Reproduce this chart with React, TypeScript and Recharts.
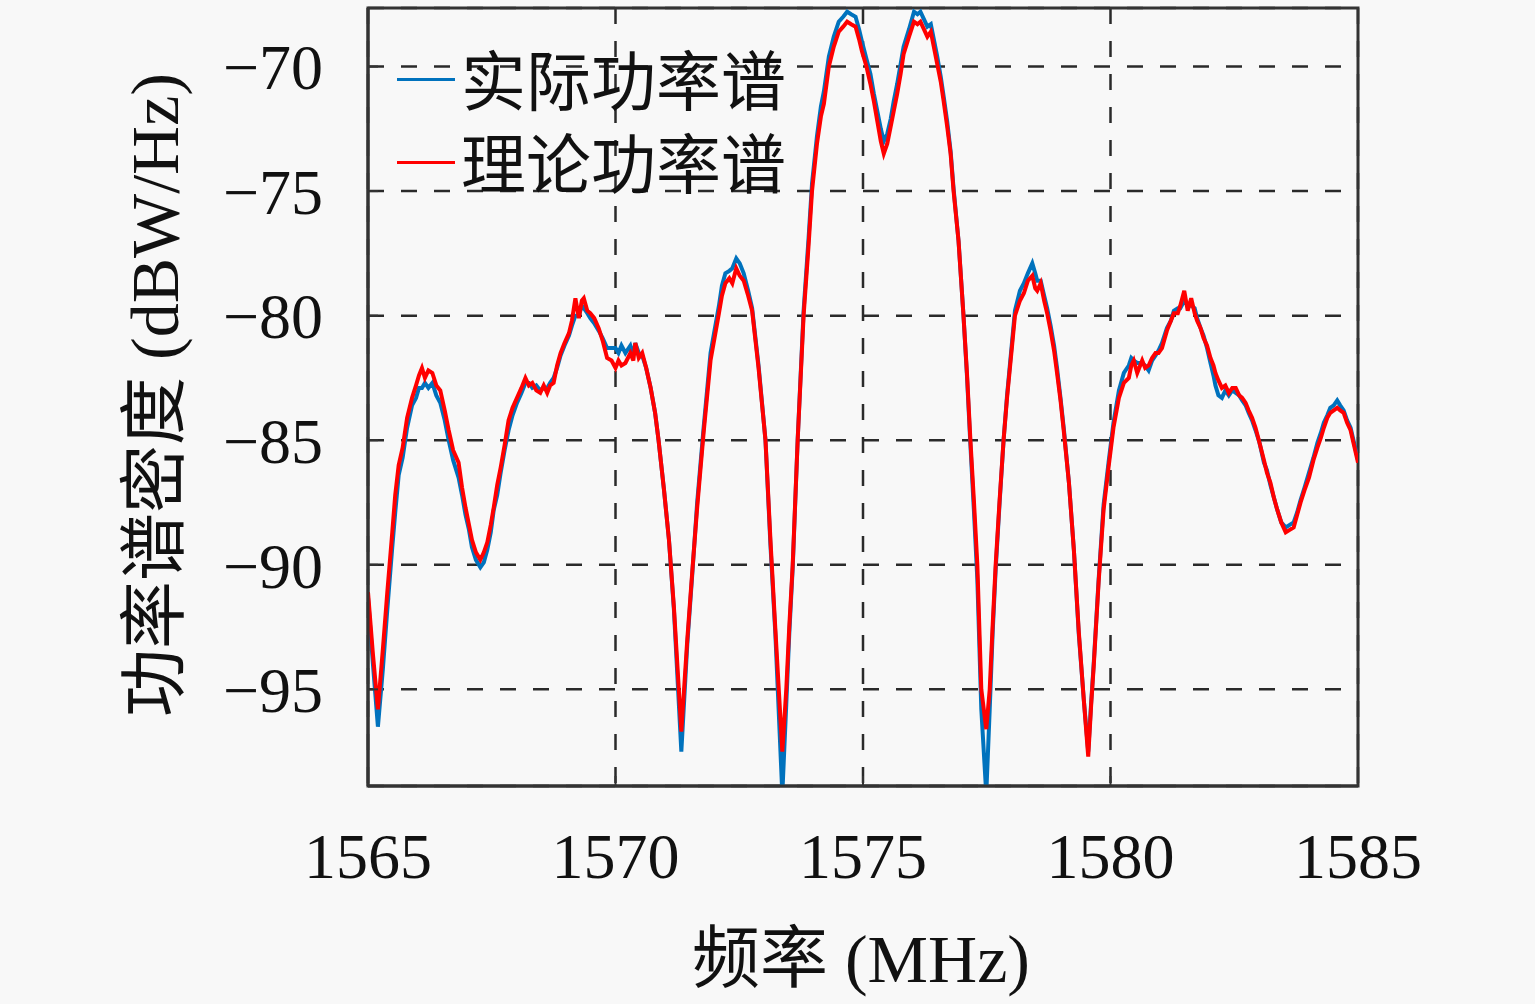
import React from 'react';
import { LineChart, Line, XAxis, YAxis, CartesianGrid, Legend, ReferenceArea } from 'recharts';

// frequency grid (MHz)
const FREQ = [
  1565.0, 1565.1, 1565.2, 1565.3, 1565.39, 1565.49, 1565.55, 1565.62, 1565.7, 1565.79,
  1565.89, 1565.97, 1566.03, 1566.09, 1566.15, 1566.22, 1566.3, 1566.38, 1566.46, 1566.55,
  1566.63, 1566.72, 1566.83, 1566.9, 1566.97, 1567.04, 1567.1, 1567.18, 1567.27, 1567.34,
  1567.41, 1567.48, 1567.54, 1567.61, 1567.68, 1567.76, 1567.84, 1567.92, 1568.01, 1568.1,
  1568.18, 1568.25, 1568.32, 1568.4, 1568.48, 1568.55, 1568.62, 1568.68, 1568.75, 1568.82,
  1568.89, 1568.97, 1569.06, 1569.12, 1569.19, 1569.26, 1569.32, 1569.36, 1569.43, 1569.49,
  1569.57, 1569.66, 1569.74, 1569.83, 1569.92, 1570.0, 1570.06, 1570.12, 1570.2, 1570.3,
  1570.36, 1570.4, 1570.47, 1570.54, 1570.62, 1570.71, 1570.8, 1570.87, 1570.98, 1571.08,
  1571.18, 1571.33, 1571.45, 1571.55, 1571.65, 1571.78, 1571.92, 1572.0, 1572.09, 1572.15,
  1572.22, 1572.3, 1572.36, 1572.44, 1572.51, 1572.59, 1572.68, 1572.76, 1572.89, 1573.03,
  1573.13, 1573.23, 1573.37, 1573.45, 1573.51, 1573.58, 1573.68, 1573.8, 1573.9, 1573.97,
  1574.07, 1574.15, 1574.21, 1574.31, 1574.41, 1574.51, 1574.6, 1574.68, 1574.76, 1574.85,
  1574.92, 1574.98, 1575.07, 1575.15, 1575.22, 1575.29, 1575.36, 1575.42, 1575.49, 1575.56,
  1575.62, 1575.69, 1575.76, 1575.82, 1575.93, 1576.03, 1576.1, 1576.16, 1576.23, 1576.3,
  1576.37, 1576.43, 1576.5, 1576.57, 1576.63, 1576.7, 1576.77, 1576.83, 1576.93, 1577.03,
  1577.1, 1577.17, 1577.24, 1577.31, 1577.39, 1577.49, 1577.56, 1577.62, 1577.68, 1577.76,
  1577.84, 1577.91, 1578.07, 1578.17, 1578.25, 1578.33, 1578.42, 1578.48, 1578.52, 1578.59,
  1578.66, 1578.72, 1578.79, 1578.86, 1578.92, 1578.99, 1579.06, 1579.16, 1579.26, 1579.36,
  1579.46, 1579.55, 1579.61, 1579.66, 1579.76, 1579.86, 1579.96, 1580.06, 1580.17, 1580.27,
  1580.37, 1580.42, 1580.47, 1580.54, 1580.64, 1580.7, 1580.77, 1580.84, 1580.91, 1580.97,
  1581.04, 1581.14, 1581.22, 1581.28, 1581.36, 1581.41, 1581.49, 1581.56, 1581.63, 1581.7,
  1581.75, 1581.82, 1581.88, 1581.95, 1582.02, 1582.08, 1582.12, 1582.18, 1582.25, 1582.32,
  1582.39, 1582.46, 1582.53, 1582.6, 1582.66, 1582.73, 1582.79, 1582.86, 1582.93, 1583.01,
  1583.1, 1583.16, 1583.23, 1583.3, 1583.37, 1583.45, 1583.54, 1583.62, 1583.7, 1583.77,
  1583.84, 1583.92, 1584.01, 1584.1, 1584.18, 1584.25, 1584.31, 1584.38, 1584.44, 1584.51,
  1584.58, 1584.64, 1584.71, 1584.78, 1584.85, 1584.92, 1585.0,
];

// 实际功率谱 (blue)
const ACTUAL = [
  -91.3, -94.0, -96.5, -94.2, -91.8, -89.3, -87.9, -86.4, -85.7, -84.5,
  -83.6, -83.3, -82.9, -82.9, -82.7, -82.9, -82.7, -83.2, -83.5, -84.2,
  -85.0, -85.8, -86.5, -87.2, -88.0, -88.6, -89.3, -89.8, -90.1, -89.9,
  -89.4, -88.7, -87.8, -87.2, -86.3, -85.4, -84.6, -84.0, -83.5, -83.1,
  -82.7, -82.7, -82.9, -82.8, -83.0, -82.9, -82.9, -82.7, -82.5, -82.1,
  -81.6, -81.2, -80.8, -80.4, -80.0, -80.0, -79.6, -79.7, -79.9, -80.1,
  -80.3, -80.6, -80.9, -81.3, -81.3, -81.3, -81.5, -81.2, -81.5, -81.2,
  -81.6, -81.1, -81.5, -81.6, -82.1, -82.9, -83.9, -85.0, -87.0, -89.0,
  -91.8, -97.5, -93.2, -90.4, -87.5, -84.5, -81.5, -80.6, -79.6, -78.8,
  -78.3, -78.2, -78.1, -77.7, -77.9, -78.3, -79.0, -79.7, -82.0, -85.0,
  -89.2, -92.8, -99.2, -95.6, -92.8, -90.1, -85.0, -79.8, -76.9, -74.7,
  -72.8, -71.6, -71.0, -69.6, -68.8, -68.2, -68.0, -67.8, -67.9, -68.0,
  -68.5, -69.0, -69.7, -70.3, -71.1, -71.8, -72.5, -73.0, -72.7, -72.1,
  -71.4, -70.7, -69.9, -69.2, -68.5, -67.8, -67.9, -67.8, -68.1, -68.4,
  -68.3, -68.9, -69.6, -70.4, -71.2, -72.2, -73.4, -74.9, -77.0, -80.0,
  -82.4, -85.2, -87.8, -90.6, -95.8, -99.2, -95.8, -92.7, -90.2, -87.5,
  -85.0, -83.2, -79.8, -79.0, -78.7, -78.3, -77.9, -78.3, -78.6, -78.6,
  -79.2, -79.7, -80.4, -81.2, -82.1, -83.3, -84.6, -86.7, -89.4, -92.8,
  -95.4, -97.5, -95.5, -94.0, -90.6, -87.6, -85.9, -84.3, -83.0, -82.3,
  -82.0, -81.7, -81.8, -81.9, -81.9, -82.0, -82.2, -81.8, -81.6, -81.4,
  -81.1, -80.5, -80.2, -79.8, -79.7, -79.7, -79.4, -79.6, -79.6, -79.7,
  -80.1, -80.5, -80.8, -81.3, -81.9, -82.4, -82.8, -83.2, -83.3, -83.0,
  -83.2, -83.0, -83.1, -83.2, -83.4, -83.6, -83.9, -84.2, -84.6, -85.1,
  -85.9, -86.2, -86.8, -87.3, -87.8, -88.3, -88.5, -88.4, -88.3, -87.9,
  -87.4, -86.9, -86.3, -85.7, -85.1, -84.7, -84.3, -84.0, -83.7, -83.6,
  -83.4, -83.6, -83.8, -84.2, -84.5, -85.1, -85.8,
];

// 理论功率谱 (red)
const THEORY = [
  -91.1, -93.6, -95.8, -93.4, -91.1, -88.7, -87.2, -86.0, -85.3, -84.1,
  -83.3, -82.8, -82.4, -82.1, -82.5, -82.2, -82.3, -82.8, -83.0, -83.8,
  -84.6, -85.4, -85.9, -86.9, -87.7, -88.4, -89.0, -89.5, -89.8, -89.5,
  -89.1, -88.4, -87.7, -86.8, -86.1, -85.2, -84.2, -83.7, -83.3, -82.9,
  -82.5, -82.8, -82.7, -83.0, -83.1, -82.8, -83.1, -82.8, -82.7, -82.0,
  -81.5, -81.1, -80.7, -80.2, -79.3, -80.1, -79.4, -79.3, -79.8, -79.9,
  -80.1, -80.5, -81.0, -81.7, -81.8, -82.1, -81.8, -82.0, -81.9, -81.5,
  -81.8, -81.1, -81.7, -81.5, -82.1, -82.9, -83.9, -85.0, -87.0, -89.0,
  -91.7, -96.7, -93.0, -90.3, -87.7, -84.7, -81.8, -80.9, -79.9, -79.2,
  -78.7, -78.5, -78.7, -78.1, -78.4, -78.6, -79.2, -79.8, -82.1, -85.0,
  -89.0, -92.6, -97.5, -95.0, -92.5, -90.0, -85.0, -80.0, -77.2, -75.0,
  -73.1, -72.0, -71.5, -70.0, -69.2, -68.6, -68.4, -68.2, -68.3, -68.4,
  -68.9, -69.4, -70.0, -70.7, -71.4, -72.2, -73.0, -73.5, -73.1, -72.4,
  -71.8, -71.1, -70.3, -69.5, -68.8, -68.2, -68.3, -68.2, -68.5, -68.8,
  -68.6, -69.2, -69.9, -70.6, -71.4, -72.4, -73.5, -75.0, -77.0, -80.0,
  -82.3, -85.0, -87.4, -90.0, -95.0, -96.6, -95.0, -92.4, -90.0, -87.4,
  -85.0, -83.3, -80.0, -79.4, -79.1, -78.6, -78.4, -78.9, -79.0, -78.7,
  -79.4, -79.9, -80.6, -81.4, -82.3, -83.4, -84.7, -86.7, -89.4, -92.7,
  -95.4, -97.7, -95.6, -94.1, -90.7, -87.8, -86.1, -84.5, -83.3, -82.7,
  -82.5, -82.0, -81.8, -82.3, -81.8, -82.1, -82.0, -81.7, -81.5, -81.5,
  -81.3, -80.6, -80.2, -79.9, -79.9, -79.6, -79.0, -79.8, -79.3, -79.9,
  -80.2, -80.5, -80.9, -81.2, -81.7, -82.0, -82.3, -82.6, -82.9, -82.8,
  -83.1, -82.9, -82.9, -83.2, -83.3, -83.5, -83.8, -84.1, -84.5, -85.1,
  -85.8, -86.3, -86.7, -87.3, -87.8, -88.3, -88.7, -88.6, -88.5, -88.0,
  -87.5, -87.0, -86.5, -85.8, -85.3, -84.9, -84.5, -84.1, -83.9, -83.8,
  -83.7, -83.8, -83.9, -84.3, -84.6, -85.2, -85.9,
];

const X_TICKS = [1565, 1570, 1575, 1580, 1585];
const Y_TICKS = [-95, -90, -85, -80, -75, -70];
const X_DOMAIN = [1565, 1585];
const Y_DOMAIN = [-98.88, -67.65];
const SERIES = ['实际功率谱', '理论功率谱'];

const BG = '#f8f8f8';
const FRAME = '#333';
const FONT = '"Liberation Serif", "Noto Sans CJK SC", serif';
const BLUE = '#0072BD';
const RED = '#FF0000';

const rows = FREQ.map((f, i) => ({ f, actual: ACTUAL[i], theory: THEORY[i] }));

const minusFmt = (v: number) => (v < 0 ? '\u2212' + Math.abs(v) : String(v));

function LegendBox() {
  const items = [
    { name: SERIES[0], color: BLUE },
    { name: SERIES[1], color: RED },
  ];
  return (
    <div style={{ fontFamily: FONT, fontSize: 65, lineHeight: '83px', color: '#111' }}>
      {items.map((it) => (
        <div key={it.name} style={{ display: 'flex', alignItems: 'center', whiteSpace: 'nowrap' }}>
          <span
            style={{
              display: 'inline-block',
              width: 58,
              height: 3,
              background: it.color,
              marginRight: 6,
              marginTop: -8,
            }}
          />
          {it.name}
        </div>
      ))}
    </div>
  );
}

export default function App() {
  const tickStyle = { fill: '#111', fontSize: 64, fontFamily: FONT };
  return (
    <div
      style={{
        position: 'absolute',
        left: 0,
        top: 0,
        width: 1535,
        height: 1004,
        background: BG,
        overflow: 'hidden',
      }}
    >
      <LineChart
        width={1535}
        height={1004}
        data={rows}
        margin={{ top: 8, right: 177, bottom: 0, left: 0 }}
      >
        <CartesianGrid stroke="#2a2a2a" strokeWidth={2.5} strokeDasharray="16 17" />
        <XAxis
          dataKey="f"
          type="number"
          domain={X_DOMAIN}
          ticks={X_TICKS}
          height={218}
          tick={tickStyle}
          tickSize={-10}
          tickMargin={57}
          axisLine={{ stroke: FRAME, strokeWidth: 3 }}
          tickLine={{ stroke: FRAME, strokeWidth: 2 }}
          allowDataOverflow
        />
        <YAxis
          type="number"
          domain={Y_DOMAIN}
          ticks={Y_TICKS}
          width={368}
          tick={tickStyle}
          tickFormatter={minusFmt}
          tickSize={-10}
          tickMargin={55}
          axisLine={{ stroke: FRAME, strokeWidth: 3 }}
          tickLine={{ stroke: FRAME, strokeWidth: 2 }}
          allowDataOverflow
        />
        <ReferenceArea
          x1={X_DOMAIN[0]}
          x2={X_DOMAIN[1]}
          y1={Y_DOMAIN[0]}
          y2={Y_DOMAIN[1]}
          fill="none"
          stroke={FRAME}
          strokeWidth={3}
          ifOverflow="visible"
        />
        <Legend
          layout="vertical"
          align="center"
          verticalAlign="middle"
          wrapperStyle={{ top: 42, left: 397, width: 'auto' }}
          content={() => <LegendBox />}
        />
        <Line
          type="linear"
          dataKey="actual"
          name={SERIES[0]}
          stroke={BLUE}
          strokeWidth={4}
          dot={false}
          isAnimationActive={false}
        />
        <Line
          type="linear"
          dataKey="theory"
          name={SERIES[1]}
          stroke={RED}
          strokeWidth={4}
          dot={false}
          isAnimationActive={false}
        />
      </LineChart>
      <svg
        width={1535}
        height={1004}
        style={{ position: 'absolute', left: 0, top: 0, pointerEvents: 'none' }}
      >
        <text
          transform="translate(155,395) rotate(-90)"
          textAnchor="middle"
          dominantBaseline="central"
          fontFamily={FONT}
          fontSize={68}
          fill="#111"
        >
          功率谱密度 (dBW/Hz)
        </text>
        <text
          x={861}
          y={982}
          textAnchor="middle"
          fontFamily={FONT}
          fontSize={68}
          fill="#111"
        >
          频率 (MHz)
        </text>
      </svg>
    </div>
  );
}
